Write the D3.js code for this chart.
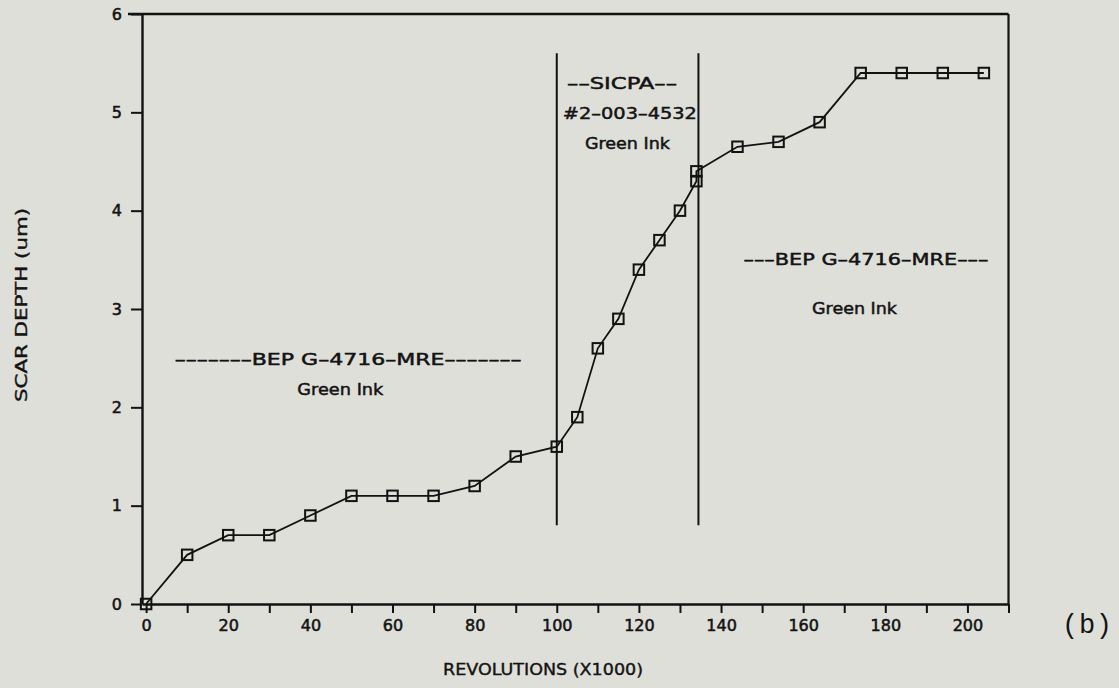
<!DOCTYPE html>
<html>
<head>
<meta charset="utf-8">
<script src="https://cdn.jsdelivr.net/npm/d3@7"></script>
<style>
  html, body { margin: 0; padding: 0; background: #dfdfd9; }
  svg { display: block; }
  text { fill: #141414; font-family: "DejaVu Sans", "Liberation Sans", sans-serif; }
</style>
</head>
<body>
<svg id="chart" width="1119" height="688"></svg>
<script>
// Scar depth measured against wheel revolutions (thousands)
const revolutions = [0, 10, 20, 30, 40, 50, 60, 70, 80, 90, 100,
                     105, 110, 115, 120, 125, 130, 134, 134,
                     144, 154, 164, 174, 184, 194, 204];
const scarDepth   = [0, 0.5, 0.7, 0.7, 0.9, 1.1, 1.1, 1.1, 1.2, 1.5, 1.6,
                     1.9, 2.6, 2.9, 3.4, 3.7, 4.0, 4.3, 4.4,
                     4.65, 4.7, 4.9, 5.4, 5.4, 5.4, 5.4];

// Axis ticks
const xTickValues = [0, 10, 20, 30, 40, 50, 60, 70, 80, 90, 100, 110, 120,
                     130, 140, 150, 160, 170, 180, 190, 200, 210];
const xTickLabels = [0, 20, 40, 60, 80, 100, 120, 140, 160, 180, 200];
const yTickValues = [0, 1, 2, 3, 4, 5, 6];

// Ink changeover boundaries (revolutions x1000)
const boundaries = [100, 134.5];

// Region notes
const noteLines = [
  "–––––––BEP G–4716–MRE–––––––",
  "Green Ink",
  "––SICPA––",
  "#2–003–4532",
  "Green Ink",
  "–––BEP G–4716–MRE–––",
  "Green Ink"
];

const xTitle = "REVOLUTIONS (X1000)";
const yTitle = "SCAR DEPTH (um)";
const panelTag = "(b)";

// ---- layout ----
const svg = d3.select("#chart");
svg.append("rect").attr("width", 1119).attr("height", 688).attr("fill", "#dfdfd9");

const x = d3.scaleLinear().domain([-1, 210]).range([142, 1008.5]);
const y = d3.scaleLinear().domain([0, 6]).range([604, 14]);

const ink = "#121212";

// bottom axis
const xAxis = d3.axisBottom(x)
  .tickValues(xTickValues)
  .tickSize(9)
  .tickSizeOuter(0)
  .tickPadding(7)
  .tickFormat(d => xTickLabels.includes(d) ? d : "");
const gx = svg.append("g").attr("transform", `translate(0,${y(0)})`).call(xAxis);

// left axis
const yAxis = d3.axisLeft(y)
  .tickValues(yTickValues)
  .tickSize(11)
  .tickSizeOuter(0)
  .tickPadding(9)
  .tickFormat(d3.format("d"));
const gy = svg.append("g").attr("transform", `translate(${x(-1)},0)`).call(yAxis);

[gx, gy].forEach(g => {
  g.select(".domain").attr("stroke", ink).attr("stroke-width", 2.4);
  g.selectAll(".tick line").attr("stroke", ink).attr("stroke-width", 2);
  g.selectAll(".tick text")
    .attr("fill", ink)
    .style("font-family", "'DejaVu Sans', sans-serif")
    .style("font-size", "16px")
    .attr("stroke", ink).attr("stroke-width", 0.55);
});

// top and right frame
svg.append("line")
  .attr("x1", x(-1) - 14).attr("x2", x(210))
  .attr("y1", y(6)).attr("y2", y(6))
  .attr("stroke", ink).attr("stroke-width", 2.4);
svg.append("line")
  .attr("x1", x(210)).attr("x2", x(210))
  .attr("y1", y(6)).attr("y2", y(0))
  .attr("stroke", ink).attr("stroke-width", 2.2);

// boundaries between inks
svg.append("g").selectAll("line")
  .data(boundaries)
  .join("line")
  .attr("x1", d => x(d)).attr("x2", d => x(d))
  .attr("y1", y(5.6)).attr("y2", y(0.8))
  .attr("stroke", ink).attr("stroke-width", 2);

// data line
const pts = revolutions.map((r, i) => [r, scarDepth[i]]);
svg.append("path")
  .datum(pts)
  .attr("fill", "none")
  .attr("stroke", ink)
  .attr("stroke-width", 1.8)
  .attr("d", d3.line().x(d => x(d[0])).y(d => y(d[1])));

// square markers
const s = 10.5;
svg.append("g").selectAll("rect")
  .data(pts)
  .join("rect")
  .attr("x", d => x(d[0]) - s / 2)
  .attr("y", d => y(d[1]) - s / 2)
  .attr("width", s).attr("height", s)
  .attr("fill", "none")
  .attr("stroke", ink)
  .attr("stroke-width", 2);

// region notes: [revolutions, depth] anchor and rendered width
const notePlacement = [
  [49.2, 2.49, 347],
  [47.3, 2.18, 86],
  [115.9, 5.29, 110],
  [117.8, 4.99, 134],
  [117.2, 4.68, 85],
  [175.3, 3.50, 245],
  [172.5, 3.00, 85]
];
svg.append("g").selectAll("text")
  .data(noteLines.map((t, i) => ({ t, p: notePlacement[i] })))
  .join("text")
  .attr("x", d => x(d.p[0]))
  .attr("y", d => y(d.p[1]))
  .attr("dy", "0.36em")
  .attr("text-anchor", "middle")
  .attr("textLength", d => d.p[2])
  .attr("lengthAdjust", "spacingAndGlyphs")
  .style("font-size", "15px")
  .attr("stroke", ink).attr("stroke-width", 0.45)
  .text(d => d.t);

// axis titles
svg.append("text")
  .attr("x", 543).attr("y", 675)
  .attr("text-anchor", "middle")
  .attr("textLength", 200)
  .attr("lengthAdjust", "spacingAndGlyphs")
  .style("font-size", "16px")
  .attr("stroke", ink).attr("stroke-width", 0.4)
  .text(xTitle);

svg.append("text")
  .attr("transform", "translate(27,305) rotate(-90)")
  .attr("text-anchor", "middle")
  .attr("textLength", 194)
  .attr("lengthAdjust", "spacingAndGlyphs")
  .style("font-size", "16px")
  .attr("stroke", ink).attr("stroke-width", 0.4)
  .text(yTitle);

// panel tag
svg.append("text")
  .attr("x", 1087).attr("y", 633)
  .attr("text-anchor", "middle")
  .attr("textLength", 50)
  .attr("lengthAdjust", "spacing")
  .style("font-family", "'Liberation Mono', 'DejaVu Sans Mono', monospace")
  .style("font-size", "27px")
  .text(panelTag);
</script>
</body>
</html>
